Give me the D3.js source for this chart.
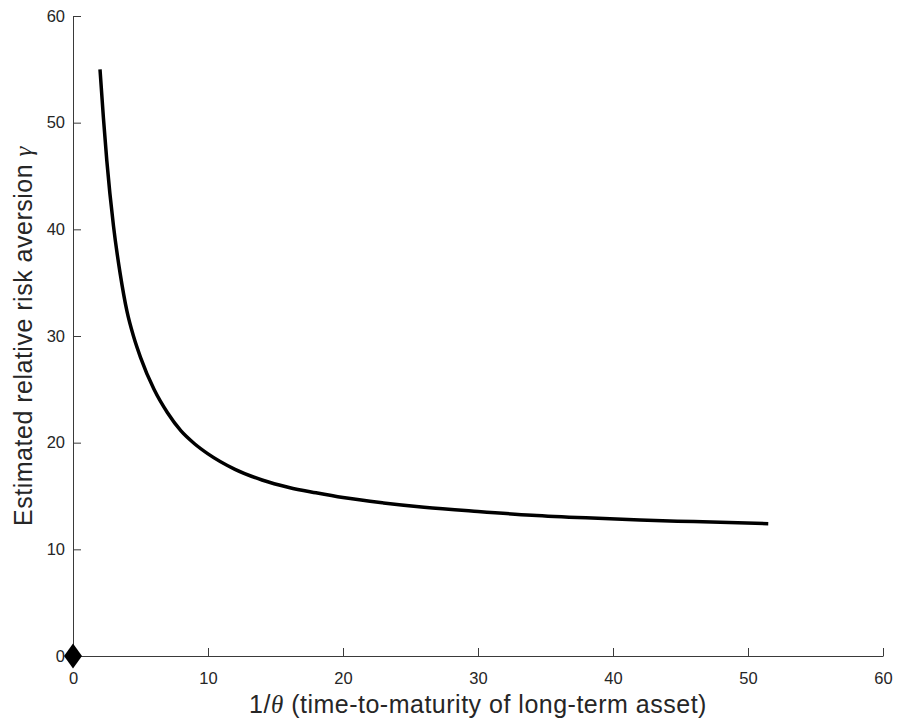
<!DOCTYPE html>
<html>
<head>
<meta charset="utf-8">
<script src="https://cdn.jsdelivr.net/npm/d3@7"></script>
<style>
    body { margin: 0; background: #fff; }
    .axis text { font-family: "Liberation Sans", Arial, sans-serif; font-size: 16.5px; fill: #262626; }
    .axis path, .axis line { stroke: #3a3a3a; }
    .label { font-family: "Liberation Sans", Arial, sans-serif; font-size: 25px; letter-spacing: 0.5px; fill: #262626; }
    .greek { font-family: "Liberation Serif", "DejaVu Serif", serif; font-style: italic; }
</style>
</head>
<body>
<div id="chartContainer"></div>
<script>
// maturity values (1/theta)
var maturity = [2, 2.25, 2.5, 3, 3.5, 4, 4.5, 5, 6, 7, 8, 9, 10, 12, 14, 16, 18, 20, 23, 26, 30, 34, 38, 42, 46, 51.5];
// estimated relative risk aversion gamma
var gamma = [55.0, 50.5, 46.5, 40.3, 35.8, 32.3, 29.9, 28.0, 25.0, 22.8, 21.1, 19.9, 18.95, 17.5, 16.5, 15.8, 15.3, 14.85, 14.35, 13.95, 13.55, 13.2, 12.95, 12.75, 12.6, 12.4];
// single marker at the origin
var markerPoint = [0, 0];
var xTicks = [0, 10, 20, 30, 40, 50, 60];
var yTicks = [0, 10, 20, 30, 40, 50, 60];

var margin = { top: 16, right: 15, bottom: 67, left: 73 };
var width = 898 - margin.left - margin.right;
var height = 723 - margin.top - margin.bottom;

var svg = d3.select('#chartContainer')
    .append("svg")
    .attr("width", 898)
    .attr("height", 723)
    .append("g")
    .attr("transform", "translate(" + margin.left + "," + margin.top + ")");

var x = d3.scaleLinear().domain([0, 60]).range([0, width]);
var y = d3.scaleLinear().domain([0, 60]).range([height, 0]);

var data = maturity.map(function (m, i) { return { x: m, y: gamma[i] }; });

// Add the X Axis (ticks point inward)
svg.append("g")
    .attr("class", "axis")
    .attr("transform", "translate(0," + height + ")")
    .call(d3.axisBottom(x).tickValues(xTicks).tickSizeInner(-8).tickSizeOuter(0).tickPadding(16))
    .call(function (g) { g.selectAll("text").attr("dy", "0.71em"); });

// Add the Y Axis
svg.append("g")
    .attr("class", "axis")
    .call(d3.axisLeft(y).tickValues(yTicks).tickSizeInner(-8).tickSizeOuter(0).tickPadding(8));

var valueline = d3.line()
    .curve(d3.curveMonotoneX)
    .x(function (d) { return x(d.x); })
    .y(function (d) { return y(d.y); });

svg.append("path")
    .datum(data)
    .attr("fill", "none")
    .attr("stroke", "#000")
    .attr("stroke-width", 3.5)
    .attr("d", valueline);

// diamond marker
var mx = x(markerPoint[0]), my = y(markerPoint[1]);
svg.append("path")
    .attr("d", "M" + mx + "," + (my - 12.5) + "L" + (mx + 9) + "," + my +
               "L" + mx + "," + (my + 12.5) + "L" + (mx - 9) + "," + my + "Z")
    .attr("fill", "#000");

// axis labels
var xl = svg.append("text")
    .attr("class", "label")
    .attr("x", width / 2)
    .attr("y", height + 57)
    .attr("text-anchor", "middle");
xl.append("tspan").text("1/");
xl.append("tspan").attr("class", "greek").text("θ");
xl.append("tspan").text(" (time-to-maturity of long-term asset)");

var yl = svg.append("text")
    .attr("class", "label")
    .attr("transform", "translate(-41," + (height / 2) + ") rotate(-90)")
    .attr("text-anchor", "middle");
yl.append("tspan").text("Estimated relative risk aversion ");
yl.append("tspan").attr("class", "greek").text("γ");
</script>
</body>
</html>
